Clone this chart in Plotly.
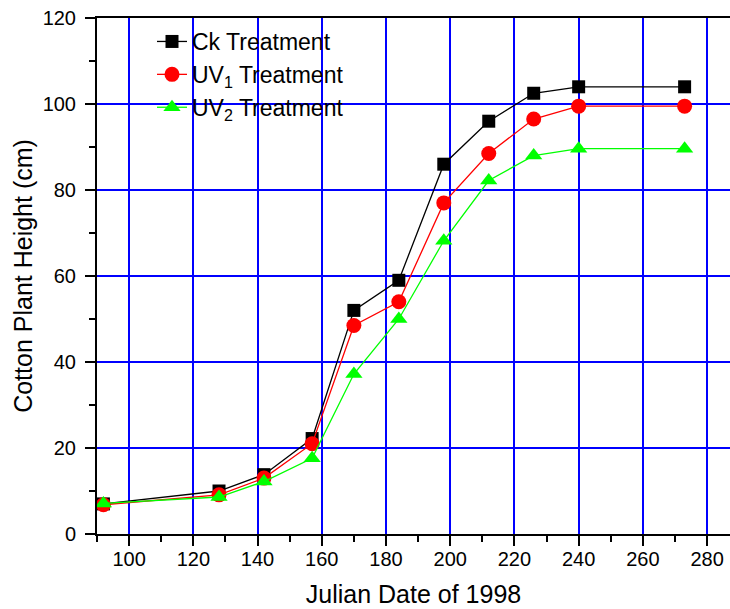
import plotly.graph_objects as go

days = [92, 128, 142, 157, 170, 184, 198, 212, 226, 240, 273]
ck = [7.0, 10.0, 13.8, 22.2, 52.0, 59.0, 86.0, 96.0, 102.5, 104.0, 104.0]
uv1 = [6.8, 9.1, 13.0, 21.0, 48.5, 54.0, 77.0, 88.5, 96.5, 99.5, 99.5]
uv2 = [7.1, 8.6, 12.2, 17.6, 37.2, 50.0, 68.2, 82.2, 88.0, 89.6, 89.6]

names = ["Ck Treatment", "UV<sub>1</sub> Treatment", "UV<sub>2</sub> Treatment"]
x_ticks = [100, 120, 140, 160, 180, 200, 220, 240, 260, 280]
y_ticks = [0, 20, 40, 60, 80, 100, 120]

FONT = "Arial, 'Liberation Sans', sans-serif"

fig = go.Figure()
styles = [
    dict(color="#000000", symbol="square", size=13),
    dict(color="#FF0000", symbol="circle", size=15),
    dict(color="#00FF00", symbol="triangle-up", size=15),
]
for vals, name, st in zip([ck, uv1, uv2], names, styles):
    fig.add_trace(go.Scatter(
        x=days, y=vals, name=name, mode="lines+markers",
        line=dict(color=st["color"], width=1.3),
        marker=dict(color=st["color"], symbol=st["symbol"], size=st["size"],
                    line=dict(width=0)),
    ))

fig.update_layout(
    width=730, height=609,
    margin=dict(l=97, r=0, t=18, b=75),
    paper_bgcolor="white", plot_bgcolor="white",
    font=dict(family=FONT, size=20, color="black"),
    showlegend=True,
    legend=dict(x=(152 - 97) / 633, y=1 - (20 - 18) / 516, xanchor="left", yanchor="top",
                bgcolor="rgba(0,0,0,0)", font=dict(size=23, family=FONT),
                itemwidth=30),
    xaxis=dict(
        range=[90, 90 + 633 / 3.211], automargin=False,
        tickmode="array", tickvals=x_ticks, ticktext=[str(v) for v in x_ticks],
        ticks="outside", ticklen=10, tickwidth=2, tickcolor="black",
        ticklabelstandoff=-4,
        showline=True, linecolor="black", linewidth=2, mirror=True,
        showgrid=True, gridcolor="#0000FF", gridwidth=1.5, zeroline=False,
        minor=dict(ticks="outside", ticklen=6, tickwidth=2, tickcolor="black",
                   dtick=10, tick0=90, showgrid=False),
        title=dict(text="Julian Date of 1998", font=dict(size=25, family=FONT), standoff=16),
        tickfont=dict(size=20, family=FONT),
    ),
    yaxis=dict(
        range=[0, 120], automargin=False,
        tickmode="array", tickvals=y_ticks, ticktext=[str(v) for v in y_ticks],
        ticks="outside", ticklen=10, tickwidth=2, tickcolor="black",
        ticklabelstandoff=5,
        showline=True, linecolor="black", linewidth=2, mirror=False,
        showgrid=True, gridcolor="#0000FF", gridwidth=1.5, zeroline=False,
        minor=dict(ticks="outside", ticklen=6, tickwidth=2, tickcolor="black",
                   dtick=10, tick0=0, showgrid=False),
        title=dict(text="Cotton Plant Height (cm)", font=dict(size=25, family=FONT), standoff=3),
        tickfont=dict(size=20, family=FONT),
    ),
)

fig.write_html("out.html", config={"displayModeBar": False},
               post_script="document.body.style.margin='0';")
